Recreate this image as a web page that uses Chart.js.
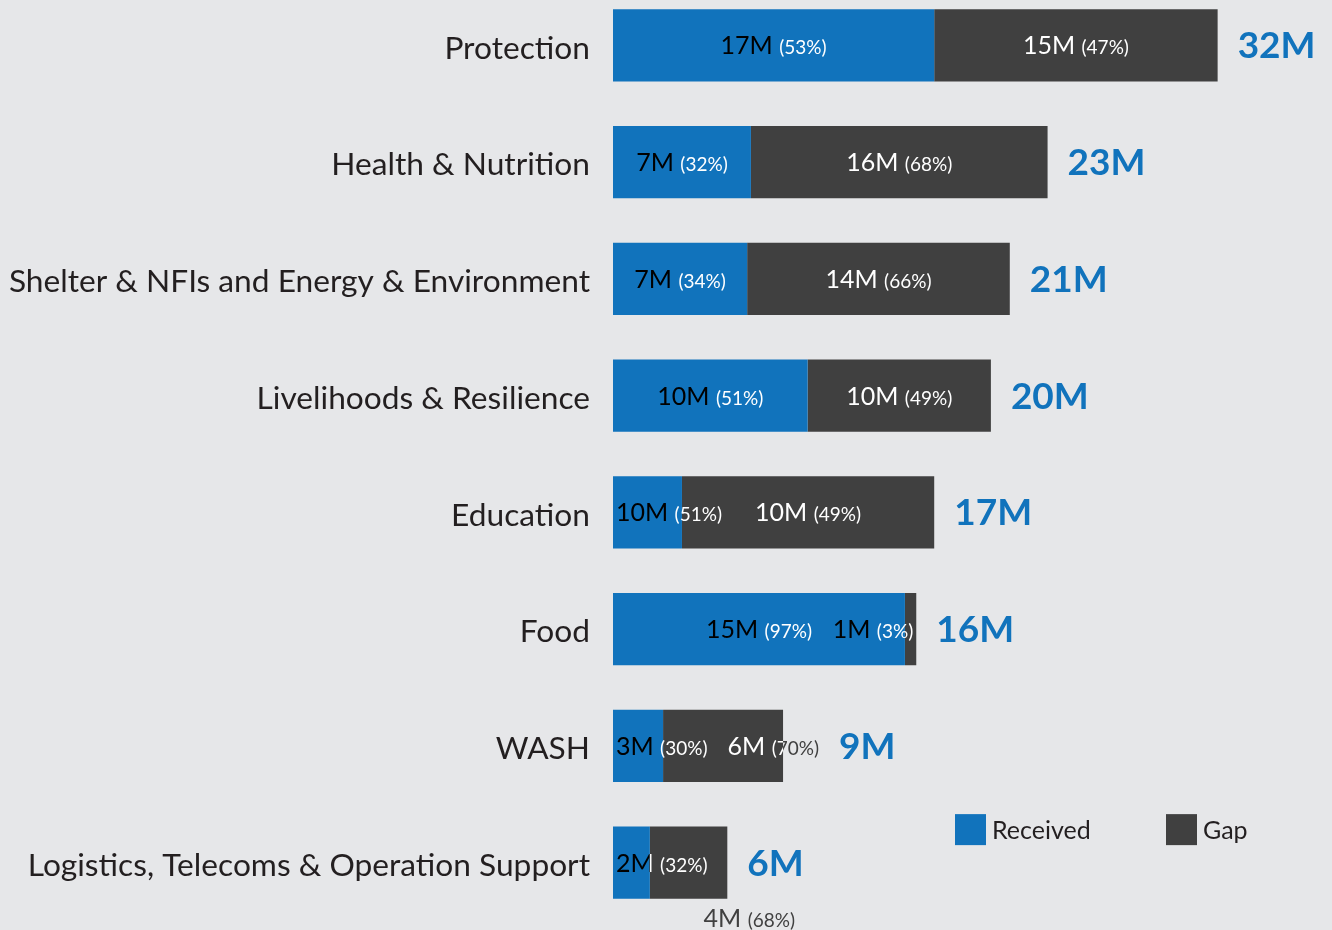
<!DOCTYPE html>
<html>
<head>
<meta charset="utf-8">
<script src="https://cdn.jsdelivr.net/npm/chart.js@4.4.1/dist/chart.umd.min.js"></script>
<style>
  html, body { margin: 0; padding: 0; background: #e6e7e9; width: 1332px; height: 930px; overflow: hidden; }
  #wrap { position: absolute; left: 0; top: -13px; width: 1332px; height: 944px; }
</style>
</head>
<body>
<div id="wrap"><canvas id="c"></canvas></div>
<script>
const categories = [
  'Protection',
  'Health & Nutrition',
  'Shelter & NFIs and Energy & Environment',
  'Livelihoods & Resilience',
  'Education',
  'Food',
  'WASH',
  'Logistics, Telecoms & Operation Support'
];
const receivedValues = [17, 7.3, 7.1, 10.3, 3.65, 15.45, 2.65, 1.95];
const gapValues      = [15, 15.7, 13.9, 9.7, 13.35, 0.6, 6.35, 4.1];
const receivedLabels = ['17M', '7M', '7M', '10M', '10M', '15M', '3M', '2M'];
const receivedPct    = ['53%', '32%', '34%', '51%', '51%', '97%', '30%', '32%'];
const gapLabels      = ['15M', '16M', '14M', '10M', '10M', '1M', '6M', '4M'];
const gapPct         = ['47%', '68%', '66%', '49%', '49%', '3%', '70%', '68%'];
const totalLabels    = ['32M', '23M', '21M', '20M', '17M', '16M', '9M', '6M'];
const seriesNames    = ['Received', 'Gap'];

const BLUE = '#1173bc';
const DARK = '#404040';
const TEXT = '#231f20';
const FONT = 'Lato';
const NUM_FONT = `25px ${FONT}`;
const PCT_FONT = `19px ${FONT}`;

function pairWidth(ctx, num, pct) {
  ctx.font = NUM_FONT;
  const w1 = ctx.measureText(num + ' ').width;
  ctx.font = PCT_FONT;
  const w2 = ctx.measureText('(' + pct + ')').width;
  return w1 + w2;
}
function drawPair(ctx, x, base, num, pct, c1, c2) {
  ctx.textAlign = 'left';
  ctx.textBaseline = 'alphabetic';
  ctx.font = NUM_FONT;
  ctx.fillStyle = c1;
  ctx.fillText(num, x, base);
  const w1 = ctx.measureText(num + ' ').width;
  ctx.font = PCT_FONT;
  ctx.fillStyle = c2;
  ctx.fillText('(' + pct + ')', x + w1, base);
}
function drawClipped(ctx, chart, x, base, num, pct, rR, rG) {
  ctx.save();
  ctx.beginPath(); ctx.rect(rR.l, rR.t, rR.r - rR.l, rR.b - rR.t); ctx.clip();
  drawPair(ctx, x, base, num, pct, '#000000', '#ffffff');
  ctx.restore();
  ctx.save();
  ctx.beginPath(); ctx.rect(rG.l, rG.t, rG.r - rG.l, rG.b - rG.t); ctx.clip();
  drawPair(ctx, x, base, num, pct, '#ffffff', '#ffffff');
  ctx.restore();
  ctx.save();
  ctx.beginPath();
  ctx.rect(0, 0, chart.width, chart.height);
  ctx.rect(rR.l, rR.t, rR.r - rR.l, rR.b - rR.t);
  ctx.rect(rG.l, rG.t, rG.r - rG.l, rG.b - rG.t);
  ctx.clip('evenodd');
  drawPair(ctx, x, base, num, pct, DARK, DARK);
  ctx.restore();
}

const labelPlugin = {
  id: 'labelPlugin',
  afterDatasetsDraw(chart) {
    const ctx = chart.ctx;
    const m0 = chart.getDatasetMeta(0).data;
    const m1 = chart.getDatasetMeta(1).data;
    for (let i = 0; i < categories.length; i++) {
      const a = m0[i].getProps(['x', 'base', 'y', 'height'], true);
      const b = m1[i].getProps(['x', 'base', 'y', 'height'], true);
      const rR = { l: Math.min(a.base, a.x), r: Math.max(a.base, a.x), t: a.y - a.height / 2, b: a.y + a.height / 2 };
      const rG = { l: Math.min(b.base, b.x), r: Math.max(b.base, b.x), t: b.y - b.height / 2, b: b.y + b.height / 2 };
      const barEnd = rG.r;
      const base = a.y + 9;

      const wR = pairWidth(ctx, receivedLabels[i], receivedPct[i]);
      let xR = (rR.l + rR.r) / 2 - wR / 2;
      if (xR < rR.l + 3) xR = rR.l + 3;
      const endR = xR + wR;
      drawClipped(ctx, chart, xR, base, receivedLabels[i], receivedPct[i], rR, rG);

      const wG = pairWidth(ctx, gapLabels[i], gapPct[i]);
      let xG = (rG.l + rG.r) / 2 - wG / 2;
      if (xG + wG > barEnd - 3) xG = barEnd - 3 - wG;
      if (xG < endR + 20) xG = endR + 20;
      let labelEnd = Math.max(barEnd, xG + wG);
      if (xG >= barEnd - 20) {
        const cx = barEnd + 22;
        drawPair(ctx, cx - wG / 2, rG.b + 28, gapLabels[i], gapPct[i], DARK, DARK);
        labelEnd = barEnd;
      } else {
        drawClipped(ctx, chart, xG, base, gapLabels[i], gapPct[i], rR, rG);
      }

      ctx.save();
      ctx.font = `bold 37px ${FONT}`;
      ctx.fillStyle = BLUE;
      ctx.textAlign = 'left';
      ctx.textBaseline = 'middle';
      ctx.fillText(totalLabels[i], labelEnd + 20, a.y + 1);
      ctx.restore();
    }

    const area = chart.chartArea;
    const yLast = chart.scales.y.getPixelForValue(categories.length - 1);
    const ly = yLast - 33;
    const ds = chart.data.datasets;
    const offsets = [342, 553];
    ds.forEach((d, k) => {
      const lx = area.left + offsets[k];
      ctx.fillStyle = d.backgroundColor;
      ctx.fillRect(lx, ly - 15.5, 31, 31);
      ctx.font = `25px ${FONT}`;
      ctx.fillStyle = TEXT;
      ctx.textAlign = 'left';
      ctx.textBaseline = 'middle';
      ctx.fillText(d.label, lx + 37, ly + 1);
    });
  }
};

new Chart(document.getElementById('c'), {
  type: 'bar',
  data: {
    labels: categories,
    datasets: [
      { label: seriesNames[0], data: receivedValues, backgroundColor: BLUE, borderWidth: 0 },
      { label: seriesNames[1], data: gapValues, backgroundColor: DARK, borderWidth: 0 }
    ]
  },
  options: {
    indexAxis: 'y',
    responsive: true,
    maintainAspectRatio: false,
    animation: false,
    events: [],
    layout: { padding: { top: 0, bottom: 10, left: 0, right: 1 } },
    datasets: { bar: { categoryPercentage: 0.62, barPercentage: 1 } },
    plugins: { legend: { display: false }, tooltip: { enabled: false } },
    scales: {
      x: { stacked: true, min: 0, max: 38, display: false, grid: { display: false } },
      y: {
        stacked: true,
        grid: { display: false, drawTicks: false },
        border: { display: false },
        ticks: { color: TEXT, font: { family: FONT, size: 31.7 }, padding: 23, labelOffset: 3 },
        afterFit(scale) { scale.width = 613; scale.paddingTop = 0; scale.paddingBottom = 0; }
      }
    }
  },
  plugins: [labelPlugin]
});
</script>
</body>
</html>
